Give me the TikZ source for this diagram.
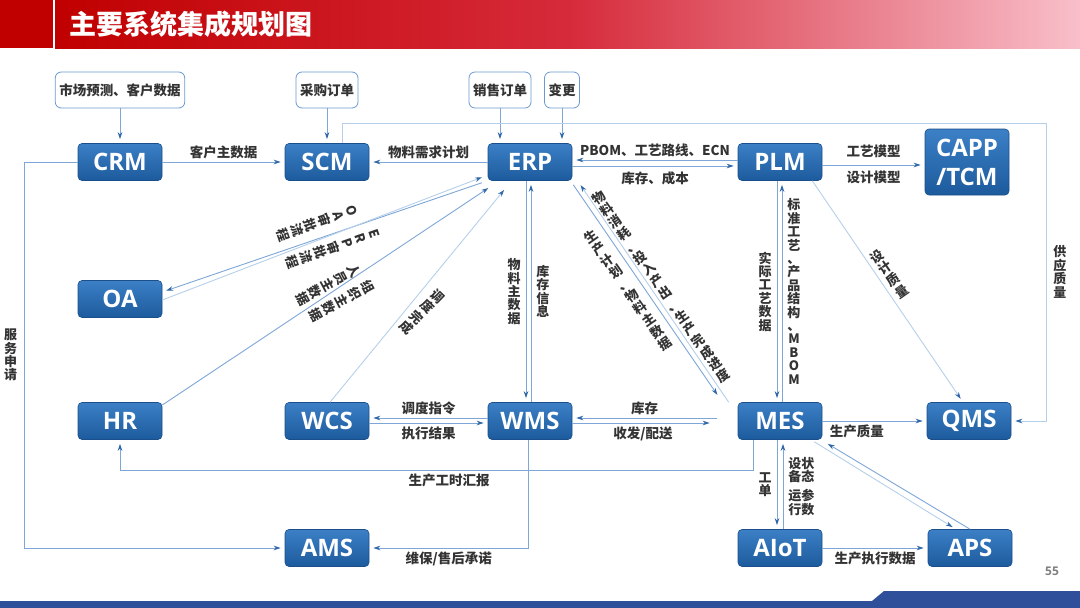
\documentclass[tikz,border=0pt]{standalone}
\usepackage{fontspec}
\setmainfont{Open Sans}
\newfontfamily\cjk{Noto Sans CJK SC}
\usepackage{xcolor}
\usepackage{tikz}
\usetikzlibrary{positioning, arrows.meta}

\definecolor{boxtop}{HTML}{3C80C6}
\definecolor{boxbot}{HTML}{1C5A9C}
\definecolor{boxline}{HTML}{1A4F8C}
\definecolor{linkblue}{HTML}{7EA6D6}
\definecolor{tipblue}{HTML}{2F67A8}
\definecolor{paleblue}{HTML}{B5CFEA}
\definecolor{inboxline}{HTML}{6C9AD0}
\definecolor{labelgray}{HTML}{333333}
\definecolor{headred}{HTML}{C00000}
\definecolor{headmid}{HTML}{D62A3A}
\definecolor{headpink}{HTML}{F8BFCA}
\definecolor{bandblue}{HTML}{2F4F9B}

\begin{document}
\begin{tikzpicture} [x = 1pt, y = 1pt, node distance = 207pt, on grid,
  sys/.style = {rectangle, rounded corners = 4pt, minimum width = 84pt,
    minimum height = 37pt, top color = boxtop, bottom color = boxbot,
    draw = boxline, line width = 0.6pt, text = white, inner sep = 0pt,
    font = \bfseries\fontsize{24}{29}\selectfont},
  tall/.style = {minimum height = 66pt, align = center},
  inbox/.style = {rectangle, rounded corners = 6pt, draw = inboxline,
    line width = 0.8pt, fill = white, minimum height = 36pt, inner xsep = 4pt,
    text = labelgray, font = \cjk\bfseries\fontsize{13.5}{15}\selectfont},
  lbl/.style = {text = labelgray, inner sep = 3pt,
    font = \cjk\bfseries\fontsize{13.5}{14}\selectfont},
  vlbl/.style = {lbl, align = center,
    font = \cjk\bfseries\fontsize{13}{13.4}\selectfont},
  diag/.style = {vlbl, font = \cjk\bfseries\fontsize{13}{14.5}\selectfont},
  link/.style = {draw = linkblue, line width = 0.9pt, shorten > = 4pt,
    -{Stealth[length = 7pt, width = 4.5pt, color = tipblue]}},
  pale/.style = {draw = paleblue}]

        \useasboundingbox (0,0) rectangle (1080,-608);
        \fill [headred] (0,0) rectangle (53,-48);
        \shade [left color = headred, right color = headpink, middle color = headmid]
         (55,0) rectangle (1080,-48);
        \fill [bandblue] (0,-601) -- (872,-601) -- (884,-591) -- (1080,-591)
         -- (1080,-608) -- (0,-608) -- cycle;
        \node (title) [anchor = west, text = white,
         font = \cjk\bfseries\fontsize{27}{30}\selectfont] at (66,-24) {主要系统集成规划图};
        \node (page) [text = gray, font = \bfseries\fontsize{12}{14}\selectfont]
         at (1052,-571) {55};

        \node (crm) [sys] at (120,-162) {CRM}; \node (scm) [sys, right = of crm] {SCM};
        \node (erp) [sys, right = 203pt of scm] {ERP}; \node (plm) [sys, right =
        250pt of erp] {PLM}; \node (capp) [sys, tall, right = 187pt of plm] {CAPP\\/TCM};
        \node (oa) [sys, below = 137pt of crm] {OA}; \node (hr) [sys, below = 122pt
        of oa] {HR}; \node (wcs) [sys, right = of hr] {WCS};
        \node (wms) [sys, right = 203pt of wcs] {WMS}; \node (mes) [sys, right =
        250pt of wms] {MES}; \node (qms) [sys, right = 189pt of mes] {QMS};
        \node (ams) [sys, below = 127pt of wcs] {AMS}; \node (aiot) [sys, below =
        127pt of mes] {AIoT}; \node (aps) [sys, right = 190pt of aiot] {APS};

        \node (mkt) [inbox, above = 72pt of crm] {市场预测、客户数据};
        \node (buy) [inbox, above = 72pt of scm] {采购订单};
        \node (sale) [inbox] at (500,-90) {销售订单}; \node (chg) [inbox] at (562,-90) {变更};

        \draw [link] (mkt) -- (crm); \draw [link] (buy) -- (scm);
        \draw [link] (sale) -- (sale |- erp.north); \draw [link] (chg) -- (chg |- erp.north);

        \draw [link] (crm) -- node [lbl, above] {客户主数据} (scm);
        \draw [link] (erp) -- node [lbl, above] {物料需求计划} (scm);
        \draw [link] ([yshift = 2pt] plm.west) -- node [lbl, above] {PBOM、工艺路线、ECN}
         ([yshift = 2pt] erp.east);
        \draw [link] ([yshift = -4pt] erp.east) -- node [lbl, below = 2pt] {库存、成本}
         ([yshift = -4pt] plm.west);
        \draw [link] ([yshift = -3pt] plm.east) -- node [lbl, above = 4pt] {工艺模型}
         node [lbl, below = 3pt] {设计模型} ([yshift = -3pt] capp.west);

        \coordinate (qloop) at (1046,-123);
        \draw [link, pale] ([xshift = 15pt] scm.north) |- (qloop) |- node [vlbl,
         pos = 0.25, right = 4pt] {供\\应\\质\\量} (qms.east);
        \draw [link] (crm.west) -- ++(-53,0) |- node [vlbl, pos = 0.25, left = 4pt]
         {服\\务\\申\\请} (ams.west);

        \draw [link] ([xshift = -6pt, yshift = -2pt] erp.south west) -- ([yshift = 7pt] oa.east);
        \draw [link, pale] ([yshift = -1pt] oa.east) -- ([xshift = -2pt, yshift = 5pt] erp.south west);
        \node (oaflow) [diag, rotate = -71] at (317,-223) {O\\A\\审\\批\\流\\程};
        \node (erpflow) [diag, rotate = -71] at (333,-248) {E\\R\\P\\审\\批\\流\\程};

        \draw [link] ([yshift = 16pt] hr.east) -- ([xshift = 4pt, yshift = -5pt] erp.south west);
        \node (staff) [diag, rotate = -62] at (328,-285) {人\\员\\主\\数\\据};
        \node (org) [diag, rotate = -62] at (342,-301) {组\\织\\主\\数\\据};

        \draw [link, pale] ([xshift = 3pt] wcs.north) -- ([xshift = 19pt, yshift = -6pt] erp.south west);
        \node (wcsdone) [diag, rotate = -44] at (422,-312) {调\\度\\完\\成};

        \draw [link] ([xshift = -4pt] erp.south) -- node [vlbl, left = 2pt]
         {物\\料\\主\\数\\据} ([xshift = -4pt] wms.north);
        \draw [link] ([xshift = 1pt] wms.north) -- node [vlbl, right = 2pt]
         {库\\存\\信\\息} ([xshift = 1pt] erp.south);

        \draw [link] ([xshift = 1pt, yshift = -4pt] erp.south east) -- ([xshift = -18pt,
         yshift = 4pt] mes.north west);
        \draw [link, pale] ([xshift = -9pt] mes.north west) -- ([xshift = 6pt,
         yshift = -1pt] erp.south east);
        \node (plan) [diag, rotate = 35] at (628,-290) {生\\产\\计\\划\\、\\物\\料\\主\\数\\据};
        \node (usage) [diag, rotate = 35] at (661,-287)
         {物\\料\\消\\耗\\、\\投\\入\\产\\出\\、\\生\\产\\完\\成\\进\\度};

        \draw [link] ([xshift = -3pt] plm.south) -- node [vlbl, left = 2pt]
         {实\\际\\工\\艺\\数\\据} ([xshift = -3pt] mes.north);
        \draw [link] ([xshift = 2pt] mes.north) -- node [vlbl, right = 2pt]
         {标\\准\\工\\艺\\、\\产\\品\\结\\构\\、\\M\\B\\O\\M} ([xshift = 2pt] plm.south);

        \draw [link, pale] ([xshift = -10pt] plm.south east) -- ([xshift = -6pt] qms.north);
        \node (dq) [diag, rotate = 35] at (889,-274) {设\\计\\质\\量};

        \draw [link] (mes) -- node [lbl, below, pos = 0.33] {生产质量} (qms);
        \draw [link] ([xshift = -21pt, yshift = 3pt] mes.west) -- node [lbl, above]
         {库存} ([yshift = 3pt] wms.east);
        \draw [link] ([yshift = -2pt] wms.east) -- node [lbl, below] {收发/配送}
         ([xshift = -24pt, yshift = -2pt] mes.west);
        \draw [link] ([yshift = 3pt] wms.west) -- node [lbl, above] {调度指令}
         ([yshift = 3pt] wcs.east);
        \draw [link] ([yshift = -2pt] wcs.east) -- node [lbl, below] {执行结果}
         ([yshift = -2pt] wms.west);

        \draw [link] ([xshift = -27pt] mes.south) -- ++(0,-31) -| node [lbl, pos = 0.24,
         below] {生产工时汇报} (hr.south);
        \draw [link] ([xshift = -2pt] wms.south) |- node [lbl, pos = 0.75, below]
         {维保/售后承诺} (ams.east);

        \draw [link] ([xshift = -3pt] mes.south) -- node [vlbl, left = 2pt] {工\\单}
         ([xshift = -3pt] aiot.north);
        \draw [link] ([xshift = 3pt] aiot.north) -- node [vlbl, right = 2pt, pos = 0.3]
         {运参\\行数} node [vlbl, right = 2pt, pos = 0.66] {设状\\备态} ([xshift = 3pt] mes.south);
        \draw [link, pale] ([xshift = -8pt, yshift = -2pt] mes.south east) -- ([xshift =
         -14pt] aps.north);
        \draw [link] (aps.north) -- ([xshift = 2pt, yshift = -2pt] mes.south east);
        \draw [link] (aiot) -- node [lbl, below] {生产执行数据} (aps);

    \end{tikzpicture}
\end{document}
